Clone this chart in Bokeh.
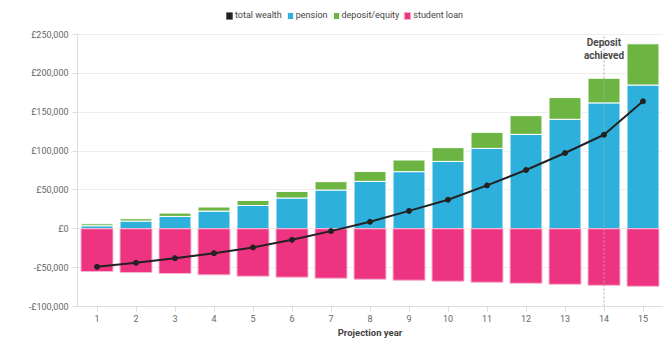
from bokeh.plotting import figure
from bokeh.models import (ColumnDataSource, Legend, LegendItem, CustomJSTickFormatter,
                          FactorRange, Range1d, SingleIntervalTicker)
from bokeh.core.properties import value
from bokeh.embed import file_html
from bokeh.resources import INLINE

# ---- data (GBP) ----
years = ["1", "2", "3", "4", "5", "6", "7", "8", "9", "10", "11", "12", "13", "14", "15"]
pension = [3900, 9900, 15900, 22800, 30000, 39600, 49900, 61000, 73500, 86700,
           103500, 121500, 140900, 162000, 185000]
deposit = [2500, 3000, 4300, 5200, 6500, 8500, 10700, 12800, 15000, 17700,
           20600, 24100, 27900, 31700, 53000]
student_loan = [-55000, -56300, -57600, -59300, -61000, -62300, -63600, -64900, -66200,
                -67500, -68800, -70100, -71400, -72700, -74000]
total_wealth = [-49000, -43800, -37800, -31400, -24000, -14200, -3000, 9000, 23000,
                37400, 55800, 75600, 97500, 121000, 164000]
deposit_year = "14"
deposit_label = "Deposit\nachieved"
y_min, y_max, y_step = -100000, 250000, 50000

C_PENSION = "#2EB0DD"
C_DEPOSIT = "#6CB543"
C_LOAN = "#EE3381"
C_TOTAL = "#222222"
FONT = "Roboto"

# layout (pixels)
W, H = 667, 341
AXIS_TOP_PX = 34      # where y_max sits
FRAME_TOP_PX = 2      # frame extends above the axis to host the legend
FRAME_BOTTOM_PX = 306
plot_px = FRAME_BOTTOM_PX - AXIS_TOP_PX
extra = (AXIS_TOP_PX - FRAME_TOP_PX) / plot_px * (y_max - y_min)

src = ColumnDataSource(dict(year=years, pension=pension, deposit=deposit,
                            loan=student_loan, total=total_wealth,
                            zero=[0] * len(years)))

p = figure(width=W, height=H,
           x_range=FactorRange(factors=years, range_padding=0),
           y_range=Range1d(y_min, y_max + extra),
           output_backend="svg", toolbar_location=None,
           min_border_left=77, min_border_right=5,
           min_border_top=FRAME_TOP_PX, min_border_bottom=H - FRAME_BOTTOM_PX)
p.outline_line_color = None
p.background_fill_color = "white"
p.border_fill_color = "white"

stack = p.vbar_stack(["pension", "deposit"], x="year", width=0.82, source=src,
                     fill_color=[C_PENSION, C_DEPOSIT], line_color="white", line_width=1)
loan_r = p.vbar(x="year", top="loan", bottom=0, width=0.82, source=src,
                fill_color=C_LOAN, line_color="#f6b3cf", line_width=1)

p.segment(x0=[deposit_year], x1=[deposit_year], y0=[y_min], y1=[y_max],
          line_color="#aaaaaa", line_width=1, line_dash="2 2")

line_r = p.line(x="year", y="total", source=src, line_color=C_TOTAL, line_width=2)
p.scatter(x="year", y="total", source=src, size=5, fill_color=C_TOTAL, line_color=C_TOTAL)

p.text(x=[deposit_year], y=[y_max], text=[deposit_label], text_align="center",
       text_baseline="top", y_offset=2, text_font=value(FONT), text_font_style="bold",
       text_font_size="10px", text_color="#4a4a4a", text_line_height=1.25)

# zero-height bars only used as the legend swatch for total wealth
swatch = p.vbar(x="year", top="zero", bottom="zero", width=0.82, source=src,
                fill_color=C_TOTAL, line_color=None)

legend = Legend(items=[LegendItem(label="total wealth", renderers=[swatch]),
                       LegendItem(label="pension", renderers=[stack[0]]),
                       LegendItem(label="deposit/equity", renderers=[stack[1]]),
                       LegendItem(label="student loan", renderers=[loan_r])],
                orientation="horizontal",
                location=(148, FRAME_BOTTOM_PX - 20))
legend.glyph_width = 8
legend.glyph_height = 9
legend.label_height = 10
legend.label_standoff = 2
legend.spacing = 4
legend.padding = 0
legend.margin = 0
legend.label_text_font = FONT
legend.label_text_font_size = "9px"
legend.label_text_color = "#444444"
legend.background_fill_alpha = 0
legend.border_line_color = None
p.add_layout(legend)

# axes
p.yaxis.ticker = SingleIntervalTicker(interval=y_step, num_minor_ticks=0)
p.yaxis.bounds = (y_min, y_max)
p.ygrid.bounds = (y_min, y_max)
p.yaxis.formatter = CustomJSTickFormatter(
    code="return (tick < 0 ? '-' : '') + '\u00a3' + Math.abs(tick).toLocaleString('en-GB');")
for ax in (p.xaxis, p.yaxis):
    ax.axis_line_color = "#dddddd"
    ax.major_tick_line_color = "#dddddd"
    ax.minor_tick_line_color = None
    ax.major_tick_in = 0
    ax.major_tick_out = 5
    ax.major_label_text_font = FONT
    ax.major_label_text_font_size = "9px"
    ax.major_label_text_color = "#666666"
p.yaxis.major_label_standoff = 4
p.xaxis.major_label_standoff = 3
p.xaxis.axis_label = "Projection year"
p.xaxis.axis_label_text_font = FONT
p.xaxis.axis_label_text_font_style = "bold"
p.xaxis.axis_label_text_font_size = "9.5px"
p.xaxis.axis_label_text_color = "#444444"
p.xaxis.axis_label_standoff = 2

p.xgrid.grid_line_color = None
p.ygrid.grid_line_color = "#eeeeee"

open("out.html", "w").write(file_html(p, INLINE))
